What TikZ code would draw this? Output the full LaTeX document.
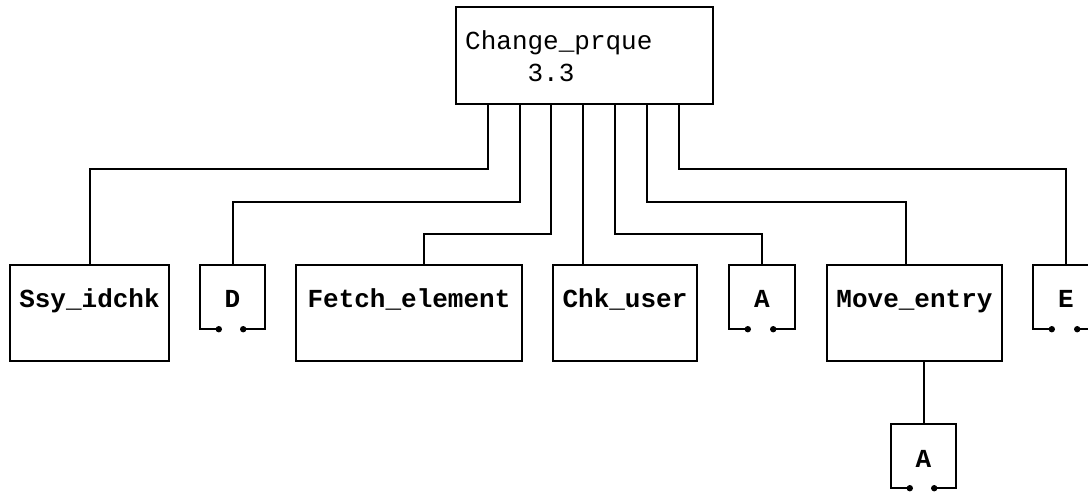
\documentclass[tikz,border=0pt]{standalone}
\usepackage{fontspec}
\newfontfamily\monofont{Liberation Mono}
\usetikzlibrary{calc}
\newcommand\openbx[1]{%
  \draw[obox] ($(#1.south west)+(19,0)$) -- (#1.south west) -- (#1.north west)
    -- (#1.north east) -- (#1.south east) -- ($(#1.south east)+(-22,0)$);
  \fill ($(#1.south west)+(19,0)$) circle (3.2pt);
  \fill ($(#1.south east)+(-22,0)$) circle (3.2pt);}
\begin{document}
\begin{tikzpicture}[x=1pt,y=-1pt,
  box/.style={draw, rectangle, line width=2.5pt, inner sep=0pt},
  ghost/.style={rectangle, inner sep=0pt},
  obox/.style={line width=2.5pt, line join=miter},
  conn/.style={line width=2pt},
  lab/.style={font=\monofont\bfseries\fontsize{26}{30}\selectfont, inner sep=0pt},
  toplab/.style={font=\monofont\fontsize{26}{32}\selectfont, inner sep=0pt, align=left}]
\useasboundingbox (0,0) rectangle (1088,492);
% top box
\node[box, minimum width=257pt, minimum height=97pt] (top) at (584.5,55.5) {};
\node[toplab, anchor=base west] (toptxt) at (465,82) {Change\_prque\\\hphantom{Chan}3.3};
% children
\node[box, minimum width=159pt, minimum height=96pt] (ssy) at (89.5,313) {};
\node[lab, anchor=base] (ssyt) at (89.5,307) {Ssy\_idchk};
\node[ghost, minimum width=65pt, minimum height=64pt] (d) at (232.5,297) {};
\node[lab, anchor=base] (dt) at (232.5,307) {D};
\node[box, minimum width=226pt, minimum height=96pt] (fetch) at (409,313) {};
\node[lab, anchor=base] (fetcht) at (409,307) {Fetch\_element};
\node[box, minimum width=144pt, minimum height=96pt] (chk) at (625,313) {};
\node[lab, anchor=base] (chkt) at (625,307) {Chk\_user};
\node[ghost, minimum width=66pt, minimum height=64pt] (a1) at (762,297) {};
\node[lab, anchor=base] (a1t) at (762,307) {A};
\node[box, minimum width=175pt, minimum height=96pt] (move) at (914.5,313) {};
\node[lab, anchor=base] (movet) at (914.5,307) {Move\_entry};
\node[ghost, minimum width=66pt, minimum height=64pt] (e) at (1066,297) {};
\node[lab, anchor=base] (et) at (1066,307) {E};
\node[ghost, minimum width=65pt, minimum height=64pt] (a2) at (923.5,456) {};
\node[lab, anchor=base] (a2t) at (923.5,467) {A};
\openbx{d}
\openbx{a1}
\openbx{e}
\openbx{a2}
% ports
\coordinate (p1) at ($(top.south west)+(33,0)$);
\coordinate (p2) at ($(top.south west)+(65,0)$);
\coordinate (p3) at ($(top.south west)+(96.5,0)$);
\coordinate (p4) at ($(top.south west)+(128,0)$);
\coordinate (p5) at ($(top.south west)+(160,0)$);
\coordinate (p6) at ($(top.south west)+(192,0)$);
\coordinate (p7) at ($(top.south west)+(224,0)$);
% connectors
\draw[conn] (p1) -- ($(p1)+(0,64)$) -| (ssy.north);
\draw[conn] (p2) -- ($(p2)+(0,97)$) -| (d.north);
\draw[conn] (p3) -- ($(p3)+(0,129)$) -| ($(fetch.north west)+(129,0)$);
\draw[conn] (p4) -- (p4 |- chk.north);
\draw[conn] (p5) -- ($(p5)+(0,129)$) -| (a1.north);
\draw[conn] (p6) -- ($(p6)+(0,97)$) -| ($(move.north west)+(80,0)$);
\draw[conn] (p7) -- ($(p7)+(0,64)$) -| (e.north);
\draw[conn] (a2.north |- move.south) -- (a2.north);
\end{tikzpicture}
\end{document}
